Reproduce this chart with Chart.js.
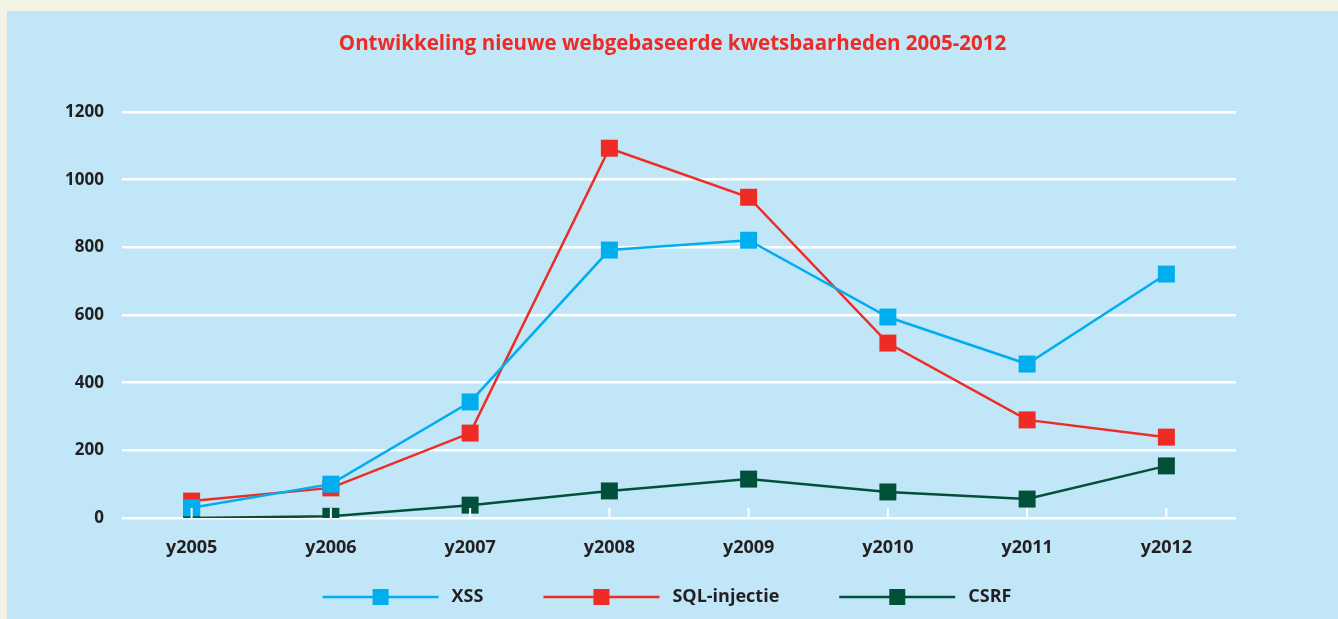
<!DOCTYPE html>
<html>
<head>
<meta charset="utf-8">
<script src="https://cdn.jsdelivr.net/npm/chart.js@4/dist/chart.umd.min.js"></script>
<style>
    html, body { margin: 0; padding: 0; background: #f2f3e5; }
    #panel {
        position: absolute;
        left: 7px; top: 11px;
        width: 1331px; height: 608px;
        background: #c1e6f7;
    }
</style>
</head>
<body>
<div id="panel"><canvas id="chart" width="1331" height="608"></canvas></div>
<script>
// ===== DATOS =====
const years = ["y2005", "y2006", "y2007", "y2008", "y2009", "y2010", "y2011", "y2012"];
const xss = [30, 100, 343, 792, 821, 594, 455, 721];
const sql = [50, 89, 251, 1093, 948, 517, 290, 239];
const csrf = [0, 5, 38, 80, 115, 77, 56, 154];
const titleText = "Ontwikkeling nieuwe webgebaseerde kwetsbaarheden 2005-2012";

const colors = {
    xss: "#00aeef",
    sql: "#ee2b24",
    csrf: "#00503a",
    text: "#231f20",
    title: "#ee2a24"
};

function series(label, data, color) {
    return {
        label: label,
        data: data,
        borderColor: color,
        backgroundColor: color,
        borderWidth: 2.5,
        pointStyle: "rect",
        pointRadius: 12,
        pointHoverRadius: 12,
        pointBorderWidth: 0,
        tension: 0
    };
}

// titulo centrado en todo el panel + leyenda propia (linea con cuadrado)
const decorations = {
    id: "decorations",
    afterDraw(chart) {
        const ctx = chart.ctx;
        ctx.save();

        // titulo
        ctx.font = "bold 20.5px 'Open Sans'";
        ctx.fillStyle = colors.title;
        ctx.textAlign = "center";
        ctx.textBaseline = "middle";
        ctx.fillText(titleText, chart.width / 2, 33);

        // leyenda
        const lineLen = 116, gap = 13, itemGap = 60;
        const y = 586;
        ctx.font = "bold 18px 'Open Sans'";
        const items = chart.data.datasets.map(ds => ({
            label: ds.label, color: ds.borderColor, w: ctx.measureText(ds.label).width
        }));
        let total = 0;
        items.forEach((it, i) => { total += lineLen + gap + it.w + (i ? itemGap : 0); });
        let x = 660 - total / 2;
        items.forEach(it => {
            ctx.strokeStyle = it.color;
            ctx.lineWidth = 2.5;
            ctx.beginPath();
            ctx.moveTo(x, y);
            ctx.lineTo(x + lineLen, y);
            ctx.stroke();
            ctx.fillStyle = it.color;
            ctx.fillRect(x + lineLen / 2 - 8, y - 8, 16, 16);
            ctx.fillStyle = colors.text;
            ctx.textAlign = "left";
            ctx.fillText(it.label, x + lineLen + gap, y);
            x += lineLen + gap + it.w + itemGap;
        });

        // marcas blancas pequenas sobre el eje x
        const xs = chart.scales.x, bottom = chart.chartArea.bottom;
        ctx.strokeStyle = "#ffffff";
        ctx.lineWidth = 2;
        xs.ticks.forEach((t, i) => {
            const px = xs.getPixelForTick(i);
            ctx.beginPath();
            ctx.moveTo(px, bottom - 10);
            ctx.lineTo(px, bottom);
            ctx.stroke();
        });
        ctx.restore();
    }
};

new Chart(document.getElementById("chart"), {
    type: "line",
    data: {
        labels: years,
        datasets: [
            series("XSS", xss, colors.xss),
            series("SQL-injectie", sql, colors.sql),
            series("CSRF", csrf, colors.csrf)
        ]
    },
    options: {
        responsive: false,
        animation: false,
        layout: { padding: { left: 35, right: 102, top: 101, bottom: 61 } },
        plugins: {
            title: { display: false },
            legend: { display: false },
            tooltip: { enabled: false }
        },
        scales: {
            x: {
                offset: true,
                afterFit: axis => { axis.height = 40; },
                grid: { display: false, drawTicks: false },
                border: { display: false },
                ticks: {
                    color: colors.text,
                    font: { family: "Open Sans", size: 18, weight: "bold" },
                    padding: 19,
                    maxRotation: 0
                }
            },
            y: {
                min: 0,
                max: 1200,
                afterFit: axis => { axis.width = 80; },
                ticks: {
                    stepSize: 200,
                    color: colors.text,
                    font: { family: "Open Sans", size: 17, weight: "bold" },
                    padding: 18,
                    callback: value => String(value)
                },
                grid: { color: "#ffffff", lineWidth: 2.5, drawTicks: false },
                border: { display: false }
            }
        }
    },
    plugins: [decorations]
});
</script>
</body>
</html>
